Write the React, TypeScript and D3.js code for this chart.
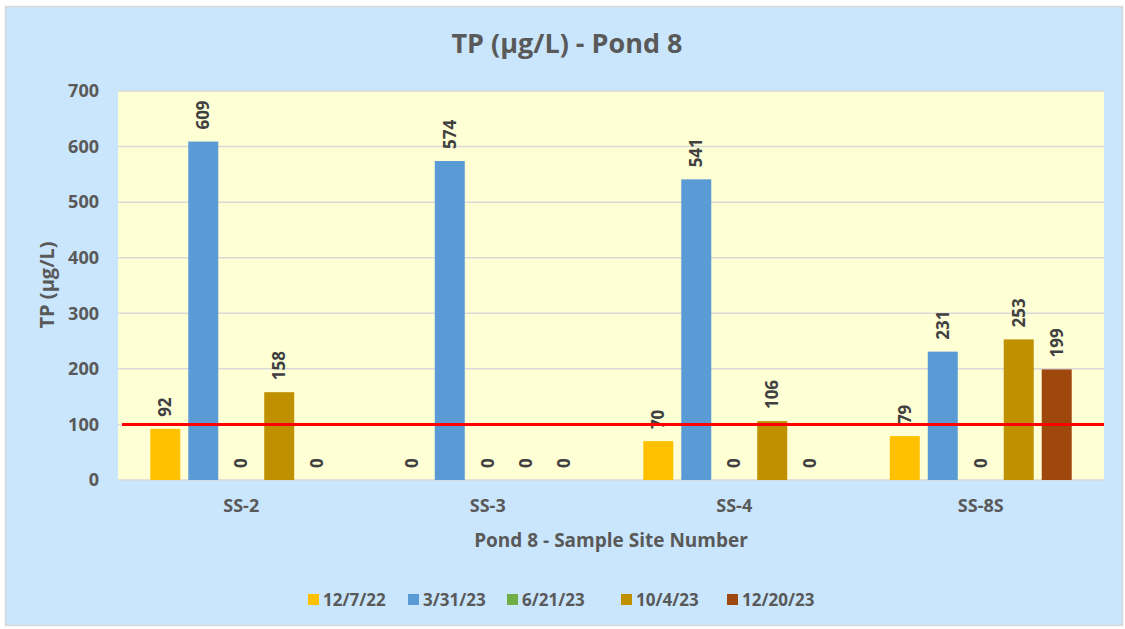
import React, { useEffect, useRef } from 'react';
import * as d3 from 'd3';

const sites = ['SS-2', 'SS-3', 'SS-4', 'SS-8S'];
const dates = ['12/7/22', '3/31/23', '6/21/23', '10/4/23', '12/20/23'];
const v_12_7_22 = [92, 0, 70, 79];
const v_3_31_23 = [609, 574, 541, 231];
const v_6_21_23 = [0, 0, 0, 0];
const v_10_4_23 = [158, 0, 106, 253];
const v_12_20_23 = [0, 0, 0, 199];
const yTicks = [0, 100, 200, 300, 400, 500, 600, 700];
const threshold = 100;

const colors = ['#ffc000', '#5b9bd5', '#70ad47', '#bf9000', '#9e480e'];

const App = () => {
  const svgRef = useRef<SVGSVGElement>(null);

  useEffect(() => {
    document.body.style.margin = '0';
    const width = 1125;
    const height = 629;
    const margin = { top: 91, right: 21, bottom: 149, left: 118 };
    const font = '"Open Sans", sans-serif';
    const textColor = '#595959';

    const series = [v_12_7_22, v_3_31_23, v_6_21_23, v_10_4_23, v_12_20_23];
    const rows = sites.map((s, i) => ({
      site: s,
      values: dates.map((d, j) => ({ date: d, value: series[j][i], idx: j })),
    }));

    const svg = d3.select(svgRef.current);
    svg.selectAll('*').remove();
    svg.attr('width', width).attr('height', height).attr('viewBox', [0, 0, width, height]);

    // Chart background
    svg.append('rect')
    .attr('x', 5.5).attr('y', 6.5)
    .attr('width', 1117).attr('height', 619)
    .attr('fill', '#c9e6fd')
    .attr('stroke', '#d9d9d9')
    .attr('stroke-width', 1.5);

    const x0 = d3.scaleBand()
    .domain(sites)
    .range([margin.left, width - margin.right]);

    const x1 = d3.scaleBand()
    .domain(dates)
    .range([0, x0.bandwidth()])
    .paddingInner(0.21)
    .paddingOuter(0.85);

    const y = d3.scaleLinear()
    .domain([0, 700])
    .range([height - margin.bottom, margin.top]);

    // Plot area
    svg.append('rect')
    .attr('x', margin.left)
    .attr('y', margin.top)
    .attr('width', width - margin.left - margin.right)
    .attr('height', y(0) - margin.top)
    .attr('fill', '#ffffd5');

    // Grid
    svg.append('g')
    .selectAll('line')
    .data(yTicks)
    .join('line')
    .attr('stroke', '#d9d9d9')
    .attr('stroke-width', 1.5)
    .attr('x1', margin.left)
    .attr('x2', width - margin.right)
    .attr('y1', d => y(d))
    .attr('y2', d => y(d));

    // Y tick labels
    svg.append('g')
    .selectAll('text')
    .data(yTicks)
    .join('text')
    .attr('x', 99)
    .attr('y', d => y(d))
    .attr('dy', '0.35em')
    .attr('text-anchor', 'end')
    .attr('font-family', font)
    .attr('font-weight', 'bold')
    .attr('font-size', 18)
    .attr('fill', textColor)
    .text(d => d);

    // Bars
    const groups = svg.append('g')
    .selectAll('g')
    .data(rows)
    .join('g')
    .attr('transform', d => `translate(${x0(d.site)},0)`);

    groups.selectAll('rect')
    .data(d => d.values)
    .join('rect')
    .attr('x', d => x1(d.date)!)
    .attr('y', d => y(d.value))
    .attr('width', x1.bandwidth())
    .attr('height', d => y(0) - y(d.value))
    .attr('fill', d => colors[d.idx]);

    // Value labels
    groups.selectAll('text')
    .data(d => d.values)
    .join('text')
    .attr('transform', d => `translate(${x1(d.date)! + x1.bandwidth() / 2},${y(d.value) - 12}) rotate(-90)`)
    .attr('dy', '0.35em')
    .attr('text-anchor', 'start')
    .attr('font-family', font)
    .attr('font-weight', 'bold')
    .attr('font-size', 17)
    .attr('fill', '#404040')
    .text(d => d.value);

    // Threshold line
    svg.append('line')
    .attr('x1', margin.left + 4)
    .attr('x2', width - margin.right)
    .attr('y1', y(threshold))
    .attr('y2', y(threshold))
    .attr('stroke', '#ff0000')
    .attr('stroke-width', 3);

    // Category labels
    svg.append('g')
    .selectAll('text')
    .data(sites)
    .join('text')
    .attr('x', d => x0(d)! + x0.bandwidth() / 2)
    .attr('y', 506)
    .attr('dy', '0.35em')
    .attr('text-anchor', 'middle')
    .attr('font-family', font)
    .attr('font-weight', 'bold')
    .attr('font-size', 18)
    .attr('fill', textColor)
    .text(d => d);

    // Title
    svg.append('text')
    .attr('x', 567)
    .attr('y', 44)
    .attr('dy', '0.35em')
    .attr('text-anchor', 'middle')
    .attr('font-family', font)
    .attr('font-weight', 'bold')
    .attr('font-size', 27)
    .attr('fill', textColor)
    .text('TP (µg/L) - Pond 8');

    // Axis titles
    svg.append('text')
    .attr('transform', `translate(47,285) rotate(-90)`)
    .attr('dy', '0.35em')
    .attr('text-anchor', 'middle')
    .attr('font-family', font)
    .attr('font-weight', 'bold')
    .attr('font-size', 20)
    .attr('fill', textColor)
    .text('TP (µg/L)');

    svg.append('text')
    .attr('x', 611)
    .attr('y', 540)
    .attr('dy', '0.35em')
    .attr('text-anchor', 'middle')
    .attr('font-family', font)
    .attr('font-weight', 'bold')
    .attr('font-size', 19)
    .attr('fill', textColor)
    .text('Pond 8 - Sample Site Number');

    // Legend
    const legendX = [308, 408, 507, 621, 727];
    const legend = svg.append('g')
    .selectAll('g')
    .data(dates)
    .join('g')
    .attr('transform', (d, i) => `translate(${legendX[i]},600)`);

    legend.append('rect')
    .attr('x', 0)
    .attr('y', -6)
    .attr('width', 11)
    .attr('height', 11)
    .attr('fill', (d, i) => colors[i]);

    legend.append('text')
    .attr('x', 15)
    .attr('y', 0)
    .attr('dy', '0.35em')
    .attr('font-family', font)
    .attr('font-weight', 'bold')
    .attr('font-size', 17)
    .attr('fill', textColor)
    .text(d => d);
  });

  return (
    <svg ref={svgRef}></svg>
  );
};

export default App;
